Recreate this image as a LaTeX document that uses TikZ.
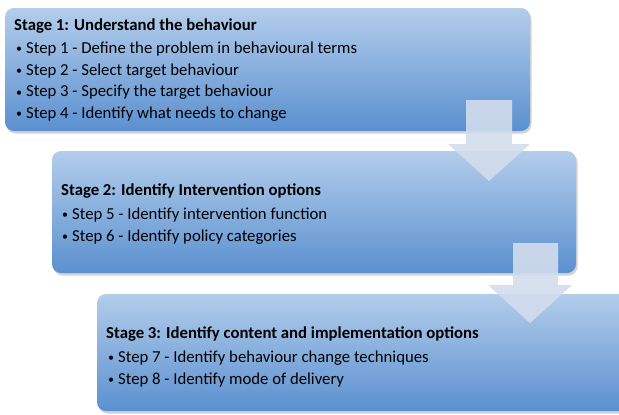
\documentclass[tikz,border=0pt]{standalone}
\usepackage{fontspec}
\setmainfont{Carlito}
\usetikzlibrary{shadows}
\definecolor{boxtop}{HTML}{B3CDEB}
\definecolor{boxbot}{HTML}{5B90D0}
\definecolor{arrowc}{HTML}{D3DDED}
\newcommand{\blt}{\makebox[10bp][l]{\raisebox{0.5bp}{\fontsize{12}{12}\selectfont•}}}
\begin{document}
\begin{tikzpicture}[x=1bp,y=-1bp,
  stagebox/.style={rounded corners=9bp, top color=boxtop, bottom color=boxbot,
     drop shadow={shadow xshift=1.5bp, shadow yshift=-2.5bp, opacity=0.35}},
  downarrow/.style={fill=arrowc, fill opacity=0.9, draw=none},
  ttl/.style={anchor=base west, inner sep=0pt, font=\fontsize{16.8}{18}\selectfont\bfseries},
  itm/.style={anchor=base west, inner sep=0pt, font=\fontsize{16.8}{18}\selectfont}]
\useasboundingbox (0,0) rectangle (619,414);
% boxes
\path[stagebox] (5,8) rectangle (530,131);
\path[stagebox] (52,151) rectangle (576,273);
\path[stagebox] (97,294) rectangle (630,411);
% arrows
\path[downarrow] (466,100) -- (512,100) -- (512,144) -- (530,144) -- (489,181) -- (448,144) -- (466,144) -- cycle;
\path[downarrow] (513,243) -- (558,243) -- (558,285) -- (572,285) -- (530,323) -- (488,285) -- (513,285) -- cycle;
% stage 1
\node[ttl] (t1) at (14,30) {Stage 1: Understand the behaviour};
\node[itm] (s1) at (16,53) {\blt Step 1 - Define the problem in behavioural terms};
\node[itm] (s2) at (16,75) {\blt Step 2 - Select target behaviour};
\node[itm] (s3) at (16,96.5) {\blt Step 3 - Specify the target behaviour};
\node[itm] (s4) at (16,118) {\blt Step 4 - Identify what needs to change};
% stage 2
\node[ttl] (t2) at (61,195) {Stage 2: Identify Intervention options};
\node[itm] (s5) at (62,219) {\blt Step 5 - Identify intervention function};
\node[itm] (s6) at (62,241) {\blt Step 6 - Identify policy categories};
% stage 3
\node[ttl] (t3) at (106,338) {Stage 3: Identify content and implementation options};
\node[itm] (s7) at (108,362) {\blt Step 7 - Identify behaviour change techniques};
\node[itm] (s8) at (108,384) {\blt Step 8 - Identify mode of delivery};
\end{tikzpicture}
\end{document}
